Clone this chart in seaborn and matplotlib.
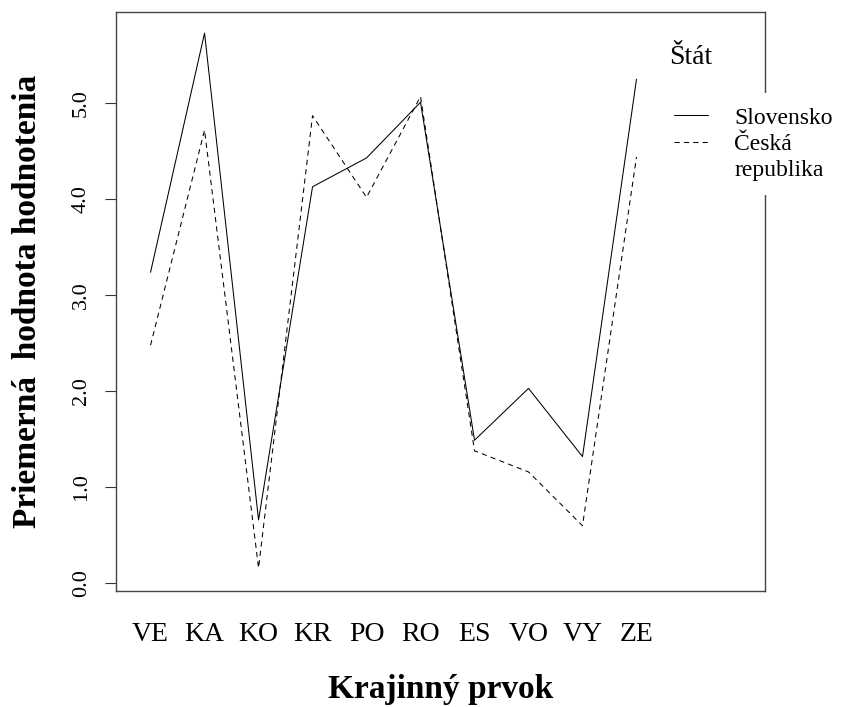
import pandas as pd
import matplotlib
matplotlib.use('Agg')
import matplotlib.pyplot as plt
from matplotlib.lines import Line2D
import seaborn as sns

# Priemerné hodnotenie krajinných prvkov podľa štátu
prvky = ['VE', 'KA', 'KO', 'KR', 'PO', 'RO', 'ES', 'VO', 'VY', 'ZE']
slovensko = [3.24, 5.73, 0.66, 4.13, 4.43, 5.01, 1.49, 2.03, 1.32, 5.25]
cesko = [2.48, 4.72, 0.16, 4.87, 4.02, 5.07, 1.38, 1.16, 0.60, 4.44]
staty = ['Slovensko', 'Česká republika']
y_ticky = [0, 1, 2, 3, 4, 5]

df = pd.DataFrame({
    'Krajinný prvok': prvky * 2,
    'Hodnotenie': slovensko + cesko,
    'Štát': [staty[0]] * len(prvky) + [staty[1]] * len(prvky),
})
df['Pozicia'] = list(range(len(prvky))) * 2

sns.set_style('white')
plt.rcParams['font.family'] = ['Liberation Serif', 'DejaVu Serif']
plt.rcParams['text.color'] = 'black'
plt.rcParams['axes.labelcolor'] = 'black'
plt.rcParams['xtick.color'] = 'black'
plt.rcParams['ytick.color'] = 'black'

fig = plt.figure(figsize=(8.43, 7.07), dpi=100)
ax = fig.add_axes([116 / 843, 1 - 591 / 707, (765 - 116) / 843, (591 - 12) / 707])

sns.lineplot(data=df, x='Pozicia', y='Hodnotenie', hue='Štát', style='Štát',
             palette={staty[0]: 'black', staty[1]: 'black'},
             dashes={staty[0]: '', staty[1]: (5, 4)},
             linewidth=0.75, sort=False, legend=False, ax=ax)

ax.set_xlim(-0.64, 11.38)
ax.set_ylim(-0.08, 5.95)

ax.set_xticks(range(len(prvky)))
ax.set_xticklabels(prvky, fontsize=20)
ax.tick_params(axis='x', length=0, pad=22)

ax.set_yticks(y_ticky)
ax.set_yticklabels([f'{v:.1f}' for v in y_ticky], fontsize=16, rotation=90, va='center')
ax.tick_params(axis='y', left=True, length=8, width=0.8, color='#333333', pad=10, direction='out')

for s in ax.spines.values():
    s.set_color('#444444')
    s.set_linewidth(1.0)

ax.set_xlabel('Krajinný prvok', fontsize=24, fontweight='bold', labelpad=20)
ax.set_ylabel('Priemerná  hodnota hodnotenia', fontsize=24, fontweight='bold', labelpad=21)

# legenda ako v R (biele pozadie, bez rámika)
handles = [Line2D([], [], color='black', lw=0.75),
           Line2D([], [], color='black', lw=0.75, dashes=(5, 4)),
           Line2D([], [], color='none')]
leg = ax.legend(handles, ['Slovensko', 'Česká', 'republika'],
                loc='upper left', bbox_to_anchor=(660 / 843, 1 - 93 / 707),
                bbox_transform=fig.transFigure, fontsize=17, frameon=True,
                facecolor='white', edgecolor='none', framealpha=1, fancybox=False,
                handlelength=1.45, handletextpad=1.1, labelspacing=0.2,
                borderpad=0.6, borderaxespad=0)
fig.text(669 / 843, 1 - 57 / 707, 'Štát', fontsize=20, ha='left', va='center')

fig.savefig('out.png', dpi=100)
